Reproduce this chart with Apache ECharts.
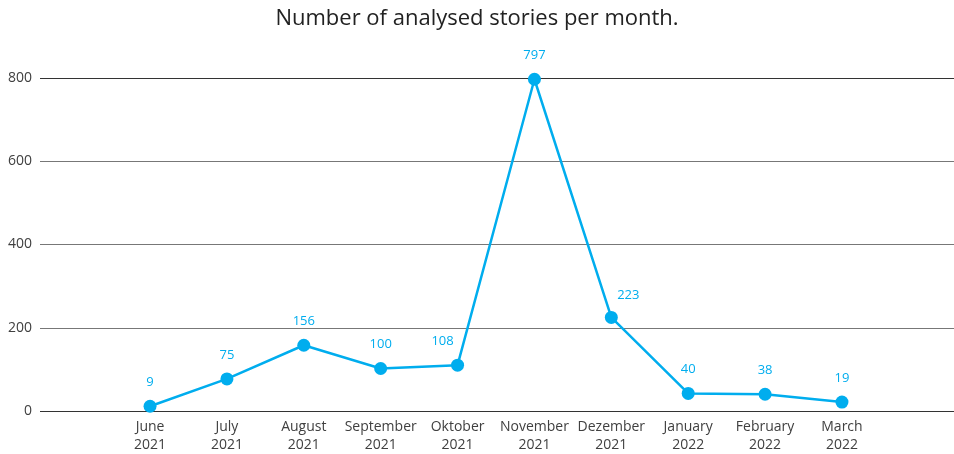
<!DOCTYPE html>
<html>
<head>
<meta charset="utf-8">
<script src="https://cdn.jsdelivr.net/npm/echarts@6/dist/echarts.min.js"></script>
<style>
  html, body { margin: 0; padding: 0; background: #fff; }
  #chart { width: 954px; height: 454px; }
</style>
</head>
<body>
<div id="chart"></div>
<script>
  // months shown on the x axis
  var months = ['June', 'July', 'August', 'September', 'Oktober', 'November', 'Dezember', 'January', 'February', 'March'];
  var years = ['2021', '2021', '2021', '2021', '2021', '2021', '2021', '2022', '2022', '2022'];
  // analysed stories per month
  var stories = [9, 75, 156, 100, 108, 797, 223, 40, 38, 19];
  var yTicks = [0, 200, 400, 600, 800];

  var categories = months.map(function (m, i) { return m + '\n' + years[i]; });

  // a couple of labels are nudged sideways so they don't sit on the line
  var labelShift = { 4: [-15, 0], 6: [17, 2] };
  var seriesData = stories.map(function (v, i) {
    var item = { value: v };
    if (labelShift[i]) item.label = { offset: labelShift[i] };
    return item;
  });

  var myChart = echarts.init(document.getElementById('chart'));
  var font = '"Open Sans", "Noto Sans", sans-serif';
  var option = {
    animation: false,
    textStyle: { fontFamily: font },
    title: {
      text: 'Number of analysed stories per month.',
      left: 'center',
      top: 3,
      textStyle: { fontFamily: font, fontSize: 22, fontWeight: 'normal', color: '#222' }
    },
    grid: [
      { left: 40, right: 0, top: 78, bottom: 43 },
      { left: 111.6, right: 73.6, top: 78, bottom: 43 }
    ],
    xAxis: [
      {
        gridIndex: 0, type: 'category', data: [''],
        axisLine: { show: false }, axisTick: { show: false }, axisLabel: { show: false }
      },
      {
        gridIndex: 1, type: 'category', data: categories, boundaryGap: true,
        axisLine: { show: false }, axisTick: { show: false },
        axisLabel: { interval: 0, margin: 8, fontSize: 14, lineHeight: 18, color: '#404040', fontFamily: font }
      }
    ],
    yAxis: [
      {
        gridIndex: 0, type: 'value', min: yTicks[0], max: yTicks[yTicks.length - 1], interval: 200,
        axisLine: { show: false }, axisTick: { show: false },
        axisLabel: { margin: 8, fontSize: 14, color: '#404040', fontFamily: font },
        splitLine: { show: true, lineStyle: { color: ['#333', '#777', '#777', '#777', '#333'], width: 1 } }
      },
      {
        gridIndex: 1, type: 'value', min: yTicks[0], max: yTicks[yTicks.length - 1], interval: 200,
        show: false, splitLine: { show: false }
      }
    ],
    series: [{
      name: 'stories',
      type: 'line',
      xAxisIndex: 1,
      yAxisIndex: 1,
      data: seriesData,
      symbol: 'circle',
      symbolSize: 13,
      lineStyle: { color: '#00adee', width: 2.5 },
      itemStyle: { color: '#00adee' },
      label: {
        show: true,
        position: 'top',
        distance: 11,
        fontSize: 13,
        color: '#00adee',
        fontFamily: font
      }
    }]
  };
  myChart.setOption(option);
</script>
</body>
</html>
